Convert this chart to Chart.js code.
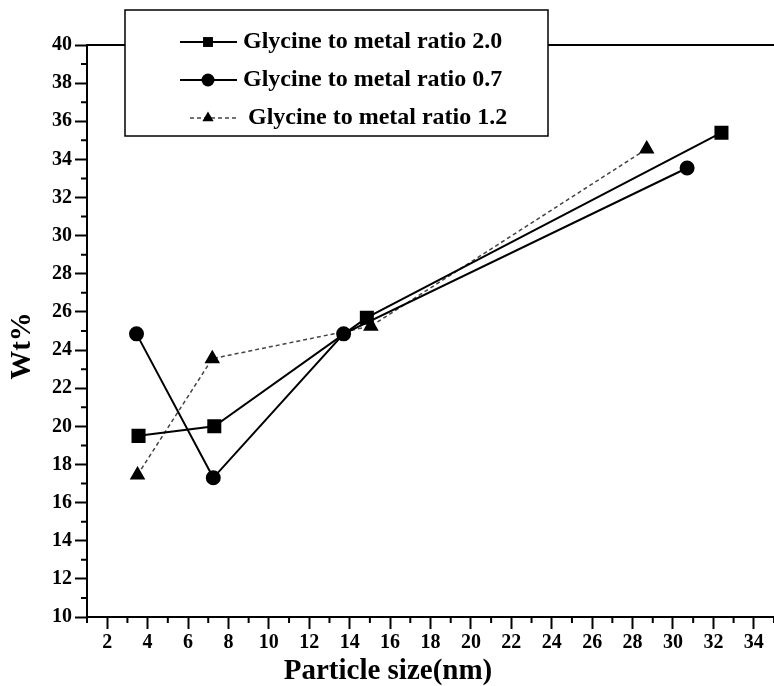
<!DOCTYPE html>
<html>
<head>
<meta charset="utf-8">
<script src="https://cdn.jsdelivr.net/npm/chart.js@4.4.0/dist/chart.umd.min.js"></script>
<style>
html, body { margin: 0; padding: 0; background: #fff; }
</style>
</head>
<body>
<canvas id="chart" width="774" height="686"></canvas>
<script>
// --- data ---
const seriesLabels = ['Glycine to metal ratio 2.0', 'Glycine to metal ratio 0.7', 'Glycine to metal ratio 1.2'];
const sizeR20 = [3.55, 7.3, 14.85, 32.4];
const wtR20 = [19.5, 20.0, 25.7, 35.4];
const sizeR07 = [3.45, 7.25, 13.7, 30.7];
const wtR07 = [24.85, 17.3, 24.85, 33.55];
const sizeR12 = [3.5, 7.2, 15.05, 28.7];
const wtR12 = [17.45, 23.55, 25.25, 34.55];
const xTicks = [2, 4, 6, 8, 10, 12, 14, 16, 18, 20, 22, 24, 26, 28, 30, 32, 34];
const yTicks = [10, 12, 14, 16, 18, 20, 22, 24, 26, 28, 30, 32, 34, 36, 38, 40];
const xTitle = 'Particle size(nm)';
const yTitle = 'Wt%';

const pts = (xs, ys) => xs.map((v, i) => ({ x: v, y: ys[i] }));
const serif = "'Liberation Serif', 'Times New Roman', serif";

// top frame line, minor ticks, axis titles and the boxed legend sitting over the plot
const framePlugin = {
  id: 'frame',
  afterDraw(chart) {
    const { ctx, chartArea: a, scales: { x, y } } = chart;
    ctx.save();
    ctx.strokeStyle = '#000';
    ctx.lineWidth = 2;
    ctx.beginPath();
    ctx.moveTo(a.left, a.top);
    ctx.lineTo(a.right, a.top);
    for (let v = 1; v <= 35; v += 2) {
      const px = x.getPixelForValue(v);
      ctx.moveTo(px, a.bottom);
      ctx.lineTo(px, a.bottom + 6);
    }
    for (let v = 11; v < 40; v += 2) {
      const py = y.getPixelForValue(v);
      ctx.moveTo(a.left, py);
      ctx.lineTo(a.left - 6, py);
    }
    ctx.stroke();

    // axis titles (sit a little off-centre in the original)
    ctx.fillStyle = '#000';
    ctx.font = 'bold 29px ' + serif;
    ctx.textAlign = 'center';
    ctx.textBaseline = 'middle';
    ctx.fillText(xTitle, 388, 672);
    ctx.save();
    ctx.translate(23, 346);
    ctx.rotate(-Math.PI / 2);
    ctx.fillText(yTitle, 0, 0);
    ctx.restore();

    // legend
    const box = { l: 125, t: 10, r: 548, b: 136 };
    ctx.fillStyle = '#fff';
    ctx.fillRect(box.l, box.t, box.r - box.l, box.b - box.t);
    ctx.lineWidth = 1.5;
    ctx.strokeRect(box.l, box.t, box.r - box.l, box.b - box.t);
    ctx.font = 'bold 24px ' + serif;
    ctx.textAlign = 'left';
    ctx.textBaseline = 'middle';
    const rows = [42, 80, 118];
    chart.data.datasets.forEach((ds, i) => {
      const ry = rows[i];
      ctx.save();
      ctx.strokeStyle = ds.borderColor;
      ctx.lineWidth = ds.borderWidth;
      ctx.setLineDash(ds.borderDash || []);
      ctx.beginPath();
      ctx.moveTo(i === 2 ? 190 : 180, ry);
      ctx.lineTo(237, ry);
      ctx.stroke();
      ctx.restore();
      ctx.fillStyle = '#000';
      Chart.helpers.drawPoint(ctx, { pointStyle: ds.pointStyle, radius: ds.pointStyle === 'rect' ? 7 : 6.5, rotation: 0, borderWidth: 0 }, 208, ry);
      ctx.fillStyle = '#000';
      ctx.fillText(ds.label, i === 2 ? 248 : 243, ry);
    });
    ctx.restore();
  }
};

new Chart(document.getElementById('chart'), {
  type: 'scatter',
  data: {
    datasets: [
      {
        label: seriesLabels[0],
        data: pts(sizeR20, wtR20),
        showLine: true,
        borderColor: '#000',
        backgroundColor: '#000',
        borderWidth: 2,
        pointStyle: 'rect',
        pointRadius: 8.5
      },
      {
        label: seriesLabels[1],
        data: pts(sizeR07, wtR07),
        showLine: true,
        borderColor: '#000',
        backgroundColor: '#000',
        borderWidth: 2,
        pointStyle: 'circle',
        pointRadius: 6.5
      },
      {
        label: seriesLabels[2],
        data: pts(sizeR12, wtR12),
        showLine: true,
        borderColor: '#444',
        backgroundColor: '#000',
        borderWidth: 1.5,
        borderDash: [4, 3],
        pointStyle: 'triangle',
        pointRadius: 7.5,
        pointBorderColor: '#000'
      }
    ]
  },
  options: {
    responsive: false,
    animation: false,
    devicePixelRatio: 1,
    layout: { autoPadding: false, padding: { top: 45, right: 0, bottom: 0, left: 0 } },
    plugins: { legend: { display: false }, tooltip: { enabled: false } },
    scales: {
      x: {
        type: 'linear',
        min: 1,
        max: 35,
        afterBuildTicks: s => { s.ticks = xTicks.map(v => ({ value: v })); },
        afterFit: s => { s.height = 69; s.paddingRight = 0; s.paddingLeft = 0; },
        border: { color: '#000', width: 2 },
        grid: { drawOnChartArea: false, color: '#000', tickLength: 12, tickWidth: 2 },
        ticks: {
          color: '#000', padding: 2, autoSkip: false, maxRotation: 0,
          font: { family: serif, size: 20, weight: 'bold' }
        },
        title: { display: false }
      },
      y: {
        min: 10,
        max: 40,
        afterBuildTicks: s => { s.ticks = yTicks.map(v => ({ value: v })); },
        afterFit: s => { s.width = 87; },
        border: { color: '#000', width: 2 },
        grid: { drawOnChartArea: false, color: '#000', tickLength: 12, tickWidth: 2 },
        ticks: {
          color: '#000', padding: 3, autoSkip: false,
          font: { family: serif, size: 20, weight: 'bold' }
        },
        title: { display: false }
      }
    }
  },
  plugins: [framePlugin]
});
</script>
</body>
</html>
